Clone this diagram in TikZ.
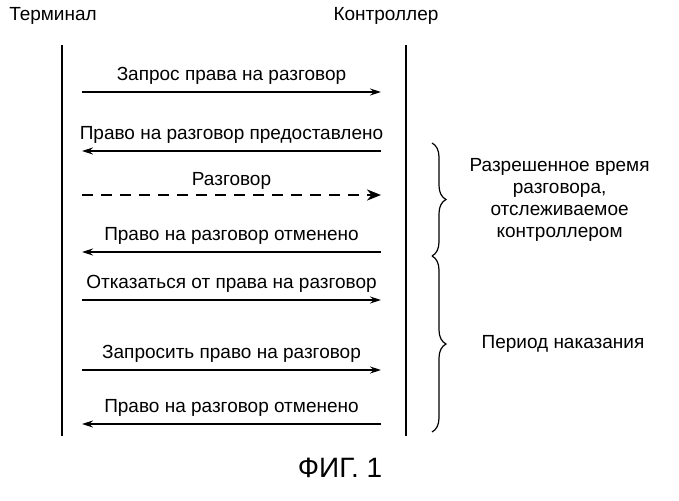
\documentclass[tikz,border=0pt]{standalone}
\usepackage{fontspec}
\setmainfont{Liberation Sans}
\usetikzlibrary{arrows,arrows.meta,positioning,decorations.pathreplacing}
\tikzstyle{msg} = [line width=1.2pt,-{Stealth[length=11pt,width=7pt]}]
\tikzstyle{msgD} = [line width=2.8pt,-{Stealth[length=14pt,width=11pt]},dash pattern=on 11pt off 8pt]
\tikzstyle{lbl} = [font=\fontsize{19}{22}\selectfont, inner sep=1pt]
\tikzstyle{brc} = [decorate,decoration={brace,mirror,amplitude=14pt},line width=1.2pt]
\begin{document}
\begin{tikzpicture}[x=1pt,y=-1pt]
    \useasboundingbox (0,0) rectangle (679,500);
    % lifelines
    \coordinate (t0) at (62,45);  \coordinate (t1) at (62,436);
    \coordinate (c0) at (406,45); \coordinate (c1) at (406,436);
    \draw [line width=1.2pt] (t0) -- (t1);
    \draw [line width=1.2pt] (c0) -- (c1);
    \node (term) [lbl] at (53,16) {Терминал};
    \node (ctrl) [lbl] at (386,16) {Контроллер};

    % messages
    \coordinate (a1) at (82,92);  \coordinate (b1) at (381,92);
    \coordinate (a2) at (82,151); \coordinate (b2) at (381,151);
    \coordinate (a3) at (82,195); \coordinate (b3) at (381,195);
    \coordinate (a4) at (82,252); \coordinate (b4) at (381,252);
    \coordinate (a5) at (82,300); \coordinate (b5) at (381,300);
    \coordinate (a6) at (82,370); \coordinate (b6) at (381,370);
    \coordinate (a7) at (82,424); \coordinate (b7) at (381,424);
    \draw [msg] (a1) -- node[lbl, above=6pt] {Запрос права на разговор} (b1);
    \draw [msg] (b2) -- node[lbl, above=6pt] {Право на разговор предоставлено} (a2);
    \draw [msgD] (a3) -- node[lbl, above=3pt] {Разговор} (b3);
    \draw [msg] (b4) -- node[lbl, above=6pt] {Право на разговор отменено} (a4);
    \draw [msg] (a5) -- node[lbl, above=6pt] {Отказаться от права на разговор} (b5);
    \draw [msg] (a6) -- node[lbl, above=6pt] {Запросить право на разговор} (b6);
    \draw [msg] (b7) -- node[lbl, above=6pt] {Право на разговор отменено} (a7);

    % braces
    \coordinate (p0) at (432,143); \coordinate (p1) at (432,256); \coordinate (p2) at (432,432);
    \draw [brc] (p1) -- node[right=36pt, lbl, align=center] (allowed) {Разрешенное время\\разговора,\\отслеживаемое\\контроллером} (p0);
    \draw [brc] (p2) -- node[right=48pt, lbl] (penalty) {Период наказания} (p1);

    \node (fig) [font=\fontsize{28}{32}\selectfont] at (340,468) {ФИГ. 1};
\end{tikzpicture}
\end{document}
